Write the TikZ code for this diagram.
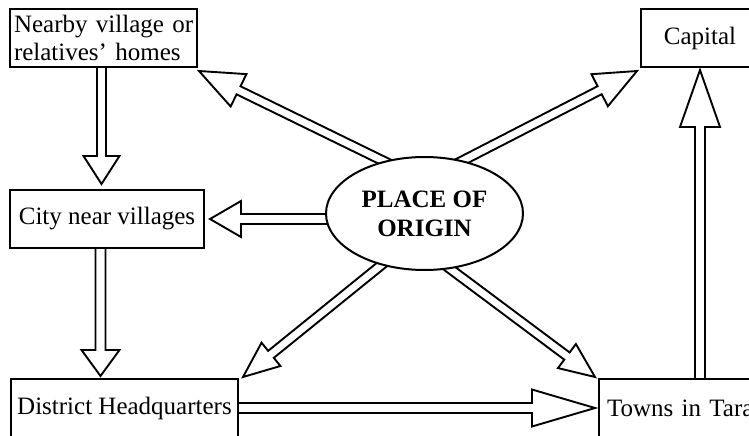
\documentclass[tikz,border=0pt]{standalone}
\usepackage{fontspec}
\setmainfont{Liberation Serif}
\usetikzlibrary{calc,shapes.geometric,backgrounds}
\tikzset{
  box/.style={draw, line width=2pt, fill=white, inner sep=0pt, font=\fontsize{25}{28}\selectfont},
  origin/.style={ellipse, draw, line width=2pt, fill=white, inner sep=0pt, align=center, font=\bfseries\fontsize{25}{29}\selectfont},
  fatarrowline/.style={draw, line width=1.9pt, fill=white, line join=miter},
}
% #1 shaft half width, #2 head half width, #3 head length, #4 start, #5 tip
\newcommand\fatarrow[5]{%
  \coordinate (fa-s0) at (#4);
  \coordinate (fa-t) at (#5);
  \coordinate (fa-s) at ($(fa-s0)!-8pt!(fa-t)$);
  \coordinate (fa-c) at ($(fa-t)!#3!(fa-s)$);
  \draw[fatarrowline] ($(fa-s)!#1!90:(fa-t)$) -- ($(fa-c)!#1!90:(fa-t)$) -- ($(fa-c)!#2!90:(fa-t)$) -- (fa-t)
     -- ($(fa-c)!#2!-90:(fa-t)$) -- ($(fa-c)!#1!-90:(fa-t)$) -- ($(fa-s)!#1!-90:(fa-t)$) -- cycle;
}
\begin{document}
\begin{tikzpicture}[x=1pt,y=-1pt]
\useasboundingbox (0,0) rectangle (749,436);
\clip (0,0) rectangle (749,436);
\node[box, minimum width=187pt, minimum height=58pt, text width=185pt, align=left] (nearby) at (103.5,38) {\hspace*{3pt}Nearby village or\\\hspace*{3pt}relatives' homes};
\node[box, minimum width=118pt, minimum height=58pt] (capital) at (700,38) {Capital};
\node[box, minimum width=194pt, minimum height=58pt] (city) at (107,219) {City near villages};
\node[origin, minimum width=197pt, minimum height=113pt] (o) at (424.5,213.5) {PLACE OF\\ORIGIN};
\node[box, minimum width=227pt, minimum height=58pt] (district) at (124.5,408) {District Headquarters};
\node[box, anchor=west, minimum height=58pt, inner xsep=8pt, text width=184pt, align=left] (towns) at (598,408) {Towns in Tarai};
\begin{scope}[on background layer]
  \fatarrow{4.5pt}{18pt}{28pt}{$(nearby.south)+(-2,0)$}{$(nearby.south |- city.north)+(-2,-5)$}
  \fatarrow{5pt}{19pt}{26pt}{$(city.south)+(-6.5,0)$}{$(city.south |- district.north)+(-6.5,-2)$}
  \fatarrow{5pt}{18.5pt}{63pt}{district.east}{$(towns.west)+(-3,0)$}
  \fatarrow{5pt}{20pt}{57pt}{towns.north -| capital.south}{$(capital.south)+(0,2)$}
  \fatarrow{4.5pt}{18pt}{44pt}{o.128}{$(nearby.south east)+(1,3)$}
  \fatarrow{4.5pt}{18pt}{42pt}{o.54}{$(capital.south west)+(-3,3)$}
  \fatarrow{5pt}{18pt}{31pt}{o.west |- city.east}{$(city.east)+(5,0)$}
  \fatarrow{4.5pt}{15pt}{36pt}{o.230}{$(district.north east)+(4,-1)$}
  \fatarrow{4.5pt}{15pt}{35pt}{o.295}{$(towns.north west)+(-3,-1)$}
\end{scope}
\end{tikzpicture}
\end{document}
